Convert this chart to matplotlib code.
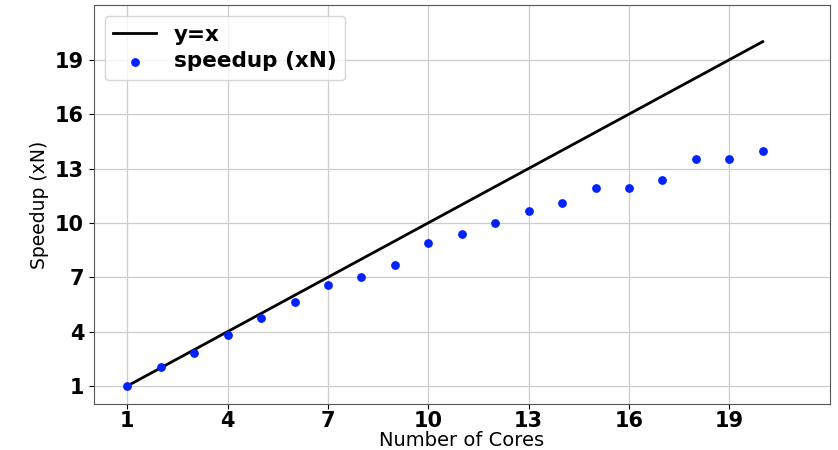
import numpy as np
import matplotlib
matplotlib.use('Agg')
import matplotlib.pyplot as plt

cores = [1, 2, 3, 4, 5, 6, 7, 8, 9, 10, 11, 12, 13, 14, 15, 16, 17, 18, 19, 20]
speedup = [1.0, 2.07, 2.84, 3.82, 4.74, 5.64, 6.56, 7.04, 7.70, 8.88,
           9.38, 9.98, 10.63, 11.09, 11.92, 11.92, 12.37, 13.52, 13.52, 13.98]
ticks = [1, 4, 7, 10, 13, 16, 19]

fig = plt.figure(figsize=(8.38, 4.5), dpi=100)
ax = fig.add_axes([0.112, 0.102, 0.878, 0.886])

ax.plot(cores, cores, color='black', lw=2.0, label='y=x', zorder=3)
ax.scatter(cores, speedup, color='#0022ff', s=28, label='speedup (xN)', zorder=4)

ax.set_xlim(0, 22)
ax.set_ylim(0, 22)
ax.set_xticks(ticks)
ax.set_yticks(ticks)
ax.tick_params(axis='x', pad=1.5)
for lbl in ax.get_xticklabels() + ax.get_yticklabels():
    lbl.set_fontweight('bold')
    lbl.set_fontsize(15)
ax.grid(True, color='#cccccc', lw=0.9)
ax.set_axisbelow(True)
for s in ax.spines.values():
    s.set_color('#555555')

ax.set_xlabel('Number of Cores', fontsize=14, labelpad=0)
ax.set_ylabel('Speedup (xN)', fontsize=13.5)

ax.legend(loc='upper left', scatterpoints=1, prop={'weight': 'bold', 'size': 15.5},
          borderaxespad=0.5, labelspacing=0.3)

fig.savefig('out.png', dpi=100)
